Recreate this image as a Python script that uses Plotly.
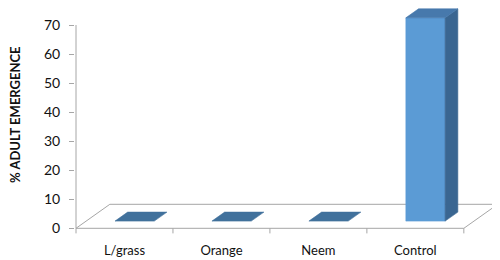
import plotly.graph_objects as go

# ---- data ----
categories = ["L/grass", "Orange", "Neem", "Control"]
adult_emergence = [0, 0, 0, 70]
y_ticks = [0, 10, 20, 30, 40, 50, 60, 70]
y_title = "% ADULT EMERGENCE"

# ---- 3-D look (style constants, in axis units) ----
FLOOR_DX, FLOOR_DY = 0.349, 8.26     # depth offset of the floor
BAR_W = 0.405                        # bar width (category units)
F1, F2 = 0.30, 0.675                 # front / back depth fraction of bars

C_FRONT = "#5B9BD5"
C_SIDE = "#3A6691"
C_TOP = "#4779AC"
C_FLAT = "#41719C"
C_GRID = "#A6A6A6"

n = len(categories)
fig = go.Figure()

# floor
x0, x1 = -0.5, n - 0.5
fig.add_trace(go.Scatter(
    x=[x0, x1, x1 + FLOOR_DX, x0 + FLOOR_DX, x0],
    y=[0, 0, FLOOR_DY, FLOOR_DY, 0],
    mode="lines", line=dict(color=C_GRID, width=1),
    hoverinfo="skip", showlegend=False))

# y axis line
fig.add_trace(go.Scatter(
    x=[x0, x0], y=[0, max(y_ticks)], mode="lines",
    line=dict(color=C_GRID, width=1), hoverinfo="skip", showlegend=False))

# category tick marks
tx, ty = [], []
for k in range(n + 1):
    tx += [x0 + k, x0 + k, None]
    ty += [0, -1.75, None]
fig.add_trace(go.Scatter(x=tx, y=ty, mode="lines",
                         line=dict(color=C_GRID, width=1),
                         hoverinfo="skip", showlegend=False))


def poly(xs, ys, color):
    fig.add_trace(go.Scatter(
        x=xs + [xs[0]], y=ys + [ys[0]], mode="lines", fill="toself",
        fillcolor=color, line=dict(color=color, width=0.6),
        hoverinfo="skip", showlegend=False))


for i, v in enumerate(adult_emergence):
    fxl = i - BAR_W / 2 + F1 * FLOOR_DX
    fxr = i + BAR_W / 2 + F1 * FLOOR_DX
    fy0 = F1 * FLOOR_DY
    bdx = (F2 - F1) * FLOOR_DX
    bdy = (F2 - F1) * FLOOR_DY
    if v > 0:
        # front face
        poly([fxl, fxr, fxr, fxl], [fy0, fy0, fy0 + v, fy0 + v], C_FRONT)
        # right side
        poly([fxr, fxr + bdx, fxr + bdx, fxr],
             [fy0, fy0 + bdy, fy0 + bdy + v, fy0 + v], C_SIDE)
        # top
        poly([fxl, fxr, fxr + bdx, fxl + bdx],
             [fy0 + v, fy0 + v, fy0 + v + bdy, fy0 + v + bdy], C_TOP)
    else:
        poly([fxl, fxr, fxr + bdx, fxl + bdx],
             [fy0, fy0, fy0 + bdy, fy0 + bdy], C_FLAT)

fig.add_annotation(text="<b>" + y_title + "</b>", xref="paper", yref="paper",
                   x=-0.141, y=0.527, xanchor="center", yanchor="middle",
                   textangle=-90, showarrow=False,
                   font=dict(family="Lato", size=13, color="#111111"))

fig.update_layout(
    width=492, height=252,
    margin=dict(l=67, r=0, t=0, b=26, autoexpand=False),
    paper_bgcolor="white", plot_bgcolor="white",
    showlegend=False,
    font=dict(family="Lato", size=13, color="#111111"),
    xaxis=dict(range=[-0.5103, 3.873], showgrid=False, zeroline=False,
               showline=False, tickvals=list(range(n)), ticktext=categories,
               ticks="", ticklabelstandoff=7, fixedrange=True,
               automargin=False),
    yaxis=dict(range=[-1.963, 75.86], showgrid=False, zeroline=False,
               showline=False, tickvals=y_ticks, ticks="outside",
               ticklen=5, tickcolor=C_GRID, fixedrange=True,
               ticklabelstandoff=6,
               automargin=False, tickfont=dict(size=14)),
)

fig.write_html("out.html")
